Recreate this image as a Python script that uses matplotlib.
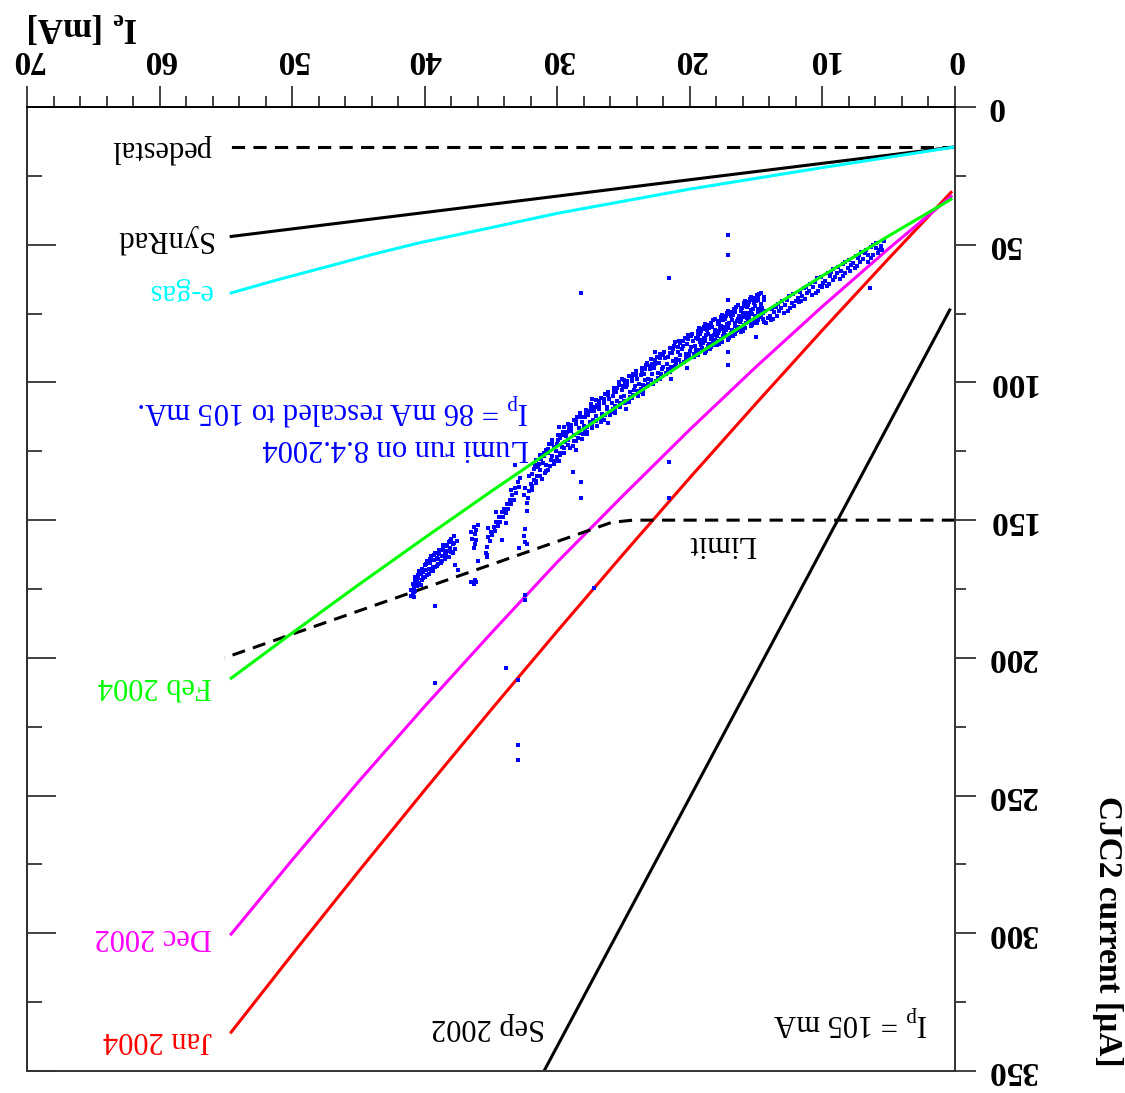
import matplotlib
matplotlib.use('Agg')
import matplotlib.pyplot as plt
from matplotlib.ticker import MultipleLocator

plt.rcParams['font.family'] = ['Liberation Serif', 'DejaVu Serif']
plt.rcParams['mathtext.fontset'] = 'custom'
plt.rcParams['mathtext.rm'] = 'Liberation Serif'
plt.rcParams['mathtext.it'] = 'Liberation Serif:italic'
plt.rcParams['mathtext.bf'] = 'Liberation Serif:bold'
plt.rcParams['lines.scale_dashes'] = False

# --- curves: electron current [mA] vs CJC2 current [uA] ---
pedestal_x = [0, 54.6]
pedestal_y = [14.5, 14.5]
synrad_x = [0, 54.6]
synrad_y = [14.5, 47.0]
egas_x = [0, 10, 20, 30, 35, 40.4, 44, 47, 51, 54.6]
egas_y = [14.5, 22.0, 29.8, 38.6, 43.8, 49.3, 53.6, 57.5, 62.6, 67.5]
curve_x = [0.3, 5, 10, 15, 20, 25, 30, 35, 40, 45, 50, 54.6]
feb04_y = [33.5, 46.8, 61.3, 76.3, 91.5, 107.2, 123.2, 139.6, 156.4, 173.5, 191.0, 207.4]
dec02_y = [32.5, 51.4, 72.4, 94.3, 117.1, 140.9, 165.2, 191.1, 217.6, 245.0, 273.4, 300.3]
jan04_y = [31.0, 55.0, 81.0, 107.6, 134.6, 162.2, 190.3, 218.9, 248.0, 277.6, 307.7, 335.9]
sep02_x = [0.4, 8.85, 31.0]
sep02_y = [73.7, 150.0, 350.0]
limit_x = [0, 24.3, 25.9, 27.6, 55.1]
limit_y = [150, 150, 150.8, 153.7, 200.0]

# --- lumi run 8.4.2004 ---
tail_x = [5.5, 5.8, 6.1, 6.4, 6.7, 7.0, 7.3, 7.6, 7.9, 8.2, 8.5, 8.8, 9.1, 9.4, 9.7,
          10.0, 10.3, 10.6, 10.9, 11.2, 11.5, 11.8, 12.1, 12.4, 12.7, 13.0, 13.3, 13.6, 13.9, 14.2]
tail_y = [[48.6, 50.3, 51.9], [49.4, 51.8, 53.0], [50.2, 51.1, 53.9], [51.0, 53.6, 54.8],
          [51.9, 53.0, 56.1], [52.6, 55.1, 56.4], [53.8, 54.9, 57.6], [54.2, 56.8, 58.3],
          [55.5, 57.4, 59.7], [56.3, 58.5, 60.1], [56.9, 59.6, 61.4], [58.2, 60.1, 62.3],
          [58.9, 61.7, 62.8], [59.8, 61.2, 64.3], [60.4, 63.1, 64.9], [61.6, 63.8, 65.2],
          [62.2, 64.9, 66.8], [63.5, 65.4, 67.7], [64.1, 66.8, 68.2], [65.3, 67.4, 69.6],
          [65.8, 68.6, 70.3], [67.2, 69.3, 70.9], [67.9, 70.4, 72.1], [68.6, 71.2, 72.9],
          [69.9, 71.8, 74.2], [70.6, 73.1, 74.8], [71.4, 74.0, 75.9], [72.5, 74.6, 76.8],
          [73.2, 75.9, 77.4], [74.1, 76.5, 78.3]]

cluster_x = [14.5, 14.75, 15.0, 15.25, 15.5, 15.75, 16.0, 16.25, 16.5, 16.75,
             17.0, 17.25, 17.5, 17.75, 18.0, 18.25, 18.5, 18.75, 19.0, 19.25]
cluster_y = [[67.5, 70.2, 72.8, 74.9, 76.1, 78.0], [67.8, 69.9, 71.6, 73.4, 75.2, 77.3],
             [68.3, 70.6, 72.1, 74.5, 76.0, 78.4], [69.1, 71.0, 73.3, 75.2, 77.4, 79.1],
             [69.8, 71.9, 73.6, 76.1, 77.8, 79.6], [70.4, 72.7, 74.8, 76.5, 78.6, 80.4],
             [71.2, 73.1, 75.5, 77.3, 79.0, 81.2], [72.0, 74.2, 75.9, 78.1, 79.9, 81.8],
             [72.6, 74.5, 76.8, 78.7, 80.6, 82.4], [73.3, 75.6, 77.2, 79.5, 81.1, 83.3],
             [74.1, 76.0, 78.3, 80.2, 82.0, 83.7], [74.8, 76.9, 78.7, 80.8, 82.6, 84.6],
             [75.5, 77.4, 79.6, 81.6, 83.3, 85.2], [76.1, 78.3, 80.1, 82.2, 84.1, 86.0],
             [76.9, 78.8, 81.0, 83.0, 84.7, 86.5], [77.5, 79.7, 81.5, 83.6, 85.5, 87.3],
             [78.3, 80.2, 82.4, 84.3, 86.1, 87.9], [78.9, 81.1, 82.8, 85.1, 86.8, 88.6],
             [79.7, 81.5, 83.7, 85.6, 87.5, 89.2], [80.3, 82.4, 84.2, 86.4, 88.1, 89.9]]
cluster_y2 = [[68.9, 73.9, 77.0], [68.8, 72.5, 76.3], [69.4, 73.3, 77.2], [70.0, 74.2, 78.3],
              [70.8, 74.8, 78.7], [71.5, 75.7, 79.5], [72.2, 76.4, 80.1], [73.1, 77.0, 80.8],
              [73.6, 77.8, 81.5], [74.4, 78.4, 82.2], [75.0, 79.2, 82.8], [75.8, 79.8, 83.6],
              [76.4, 80.6, 84.2], [77.2, 81.2, 85.1], [77.8, 82.0, 85.6], [78.6, 82.6, 86.4],
              [79.2, 83.3, 87.0], [80.0, 84.0, 87.7], [80.6, 84.6, 88.3], [81.4, 85.3, 89.0]]

band_x = [19.5, 19.8, 20.1, 20.4, 20.7, 21.0, 21.3, 21.6, 21.9, 22.2, 22.5, 22.8, 23.1, 23.4,
          23.7, 24.0, 24.3, 24.6, 24.9, 25.2, 25.5, 25.8, 26.1, 26.4, 26.7, 27.0, 27.3, 27.6,
          27.9, 28.2, 28.5, 28.8, 29.1, 29.4, 29.7, 30.0, 30.3, 30.6, 30.9, 31.2, 31.5, 31.8]
band_y = [[81.2, 84.0, 86.9, 89.8], [82.4, 85.1, 87.3, 90.6], [82.9, 86.2, 88.6, 91.1],
          [83.7, 86.6, 89.5, 92.5], [85.0, 87.7, 90.1, 93.4], [85.4, 88.8, 91.6, 94.0],
          [86.9, 89.4, 92.2, 95.6], [87.6, 90.7, 93.3, 96.2], [88.9, 91.3, 94.5, 97.1],
          [89.5, 92.8, 95.2, 98.6], [90.8, 93.4, 96.5, 99.3], [91.5, 94.7, 97.1, 100.6],
          [92.9, 95.3, 98.6, 101.2], [93.6, 96.8, 99.2, 102.7], [94.9, 97.3, 100.5, 103.4],
          [95.7, 98.8, 101.3, 104.9], [97.0, 99.6, 102.7, 105.5], [97.8, 100.9, 103.4, 107.0],
          [99.1, 101.5, 104.8, 107.6], [99.8, 102.9, 105.3, 109.1], [101.1, 103.6, 106.7, 109.8],
          [102.0, 105.1, 107.5, 111.2], [103.3, 105.9, 109.0, 112.0], [104.2, 107.4, 109.8, 113.5],
          [105.6, 108.1, 111.3, 114.2], [106.5, 109.6, 112.1, 115.8], [107.9, 110.4, 113.6, 116.5],
          [108.8, 112.0, 114.4, 118.1], [110.1, 112.7, 115.9, 118.8], [111.1, 114.3, 116.6, 120.4],
          [112.6, 115.0, 118.3, 121.2], [113.7, 116.8, 119.2, 122.9], [115.2, 117.6, 120.9, 123.8],
          [116.3, 119.4, 121.8, 125.5], [117.9, 120.3, 123.6, 126.4], [119.2, 122.3, 124.8, 128.5],
          [120.9, 123.4, 126.6, 129.6], [122.5, 125.6, 128.1, 131.8], [124.4, 126.8, 130.1, 132.9],
          [126.2, 129.3, 131.7, 135.2], [128.3, 130.7, 133.9, 136.6], [130.0, 133.2, 135.5, 138.9]]
band_y2 = [[82.6, 88.1], [83.0, 89.5], [84.4, 90.0], [85.1, 91.3], [85.8, 92.0], [87.2, 92.9],
           [87.9, 94.3], [89.3, 95.0], [89.9, 96.4], [91.3, 97.0], [91.9, 98.4], [93.2, 99.0],
           [93.9, 100.4], [95.3, 101.1], [96.0, 102.5], [97.3, 103.2], [98.1, 104.6],
           [99.5, 105.3], [100.2, 106.7], [101.4, 107.4], [102.2, 108.6], [103.5, 109.6],
           [104.5, 110.9], [105.9, 111.8], [106.8, 113.2], [108.2, 114.0], [109.0, 115.5],
           [110.5, 116.3], [111.3, 117.8], [112.7, 118.6], [113.8, 120.2], [115.3, 121.2],
           [116.4, 122.8], [117.9, 123.9], [119.1, 125.6], [120.8, 126.9], [122.2, 128.6],
           [124.1, 130.2], [125.7, 132.2], [127.8, 133.8], [129.5, 135.9], [131.6, 137.6]]

# small horizontal spread of the readings around each station
x_spread = [-0.12, 0.07, -0.03, 0.13, -0.08, 0.02, 0.10]

arcs_x = [20.2, 22.6, 23.5, 25.1, 26.2, 27.4, 28.6, 29.9, 21.4, 24.8,
          32.0, 32.1, 32.2, 32.3, 32.1, 32.4, 32.5, 32.3,
          32.8, 32.9, 33.0, 33.1, 33.2, 33.3, 33.4, 33.5, 33.6, 33.7, 33.8, 33.9, 34.0, 34.1,
          34.2, 34.3, 34.4, 34.5, 34.6, 34.7, 34.8, 34.9, 35.0, 35.1, 35.2, 35.3, 35.4, 35.3,
          35.2, 34.6, 33.9, 33.5,
          36.0, 36.1, 36.2, 36.3, 36.4, 36.2, 36.1, 36.3, 36.5, 36.0, 36.2, 36.3,
          32.4, 32.5, 32.4, 32.3]
arcs_y = [94.8, 89.1, 104.3, 98.7, 114.9, 106.0, 124.6, 116.2, 98.9, 109.5,
          136.8, 139.5, 141.8, 143.6, 133.9, 138.2, 141.0, 146.5,
          134.6, 137.9, 136.2, 140.1, 138.5, 142.7, 140.9, 144.3, 142.6, 146.0, 144.1, 147.5,
          145.8, 148.9, 147.2, 150.6, 149.0, 152.1, 150.7, 153.8, 152.4, 155.5, 154.3, 157.4,
          156.1, 159.6, 161.8, 163.5, 152.8, 146.9, 151.2, 139.0,
          151.8, 153.5, 155.0, 152.6, 156.9, 158.6, 157.2, 160.0, 154.4, 164.8, 171.9, 173.1,
          153.3, 155.6, 157.9, 158.8]

left_x = [37.6, 37.7, 37.8, 37.9, 37.9, 38.0, 38.1, 38.2, 38.2, 38.3, 38.4, 38.5, 38.5, 38.6,
          38.7, 38.8, 38.8, 38.9, 39.0, 39.1, 39.2, 39.2, 39.3, 39.4, 39.5, 39.5, 39.6, 39.7,
          39.8, 39.8, 39.9, 40.0, 40.0, 40.1, 40.2, 40.3, 40.4, 40.4, 40.5, 40.6, 40.7, 40.7,
          40.8, 40.9, 40.9, 41.0, 40.8, 37.5, 37.7,
          37.8, 38.0, 38.1, 38.3, 38.4, 38.6, 38.7, 38.9, 39.0, 39.1, 39.3, 39.4, 39.6, 39.7,
          39.9, 40.1, 40.2, 40.3, 40.5, 40.6, 40.8, 40.9, 41.0, 40.7]
left_y = [157.4, 160.3, 155.9, 158.7, 162.1, 156.8, 160.0, 163.4, 157.9, 161.2, 159.0, 164.2,
          161.8, 158.9, 163.0, 160.7, 165.5, 162.3, 166.1, 163.8, 161.9, 167.0, 164.6, 166.9,
          163.2, 168.3, 165.7, 167.8, 169.9, 164.9, 168.0, 166.4, 170.8, 168.9, 171.6, 169.7,
          172.8, 168.3, 171.1, 174.0, 172.2, 175.6, 174.4, 176.9, 173.3, 175.5, 178.0, 168.1,
          166.4,
          158.2, 161.5, 157.6, 159.4, 162.6, 160.3, 165.0, 160.9, 164.0, 166.6, 162.8, 168.6,
          164.2, 169.5, 166.1, 171.0, 167.6, 173.6, 169.8, 172.3, 176.0, 175.2, 177.4, 170.5]

outl_x = [17.1, 17.1, 21.6, 28.2, 17.1, 17.1, 17.1, 15.0, 21.6, 21.6, 28.2, 28.2, 33.2, 27.2,
          32.4, 32.4, 39.2, 36.1, 33.9, 33.0, 39.2, 33.0, 33.0, 6.4, 28.2, 28.8, 34.2, 32.9,
          35.3, 36.5]
outl_y = [46.5, 53.7, 62.0, 67.4, 70.1, 88.8, 93.7, 83.4, 129.0, 141.9, 112.4, 142.1, 130.0,
          174.8, 177.2, 179.0, 181.2, 172.4, 203.7, 208.1, 209.2, 231.7, 237.1, 65.8, 136.0,
          132.6, 157.2, 160.2, 162.7, 172.4]

x_ticks = [0, 10, 20, 30, 40, 50, 60, 70]
y_ticks = [0, 50, 100, 150, 200, 250, 300, 350]

lumi_x, lumi_y = [], []
k = 0
for xs, ys in [(tail_x, tail_y), (cluster_x, cluster_y), (cluster_x, cluster_y2),
               (band_x, band_y), (band_x, band_y2)]:
    for xv, yl in zip(xs, ys):
        for yv in yl:
            lumi_x.append(xv + x_spread[k % len(x_spread)])
            lumi_y.append(yv)
            k += 1
lumi_x += arcs_x + left_x + outl_x
lumi_y += arcs_y + left_y + outl_y

fig = plt.figure(figsize=(11.25, 10.93), dpi=100)
ax = fig.add_axes([27 / 1125, 22 / 1093, 928 / 1125, 964 / 1093])
ax.set_xlim(70, 0)
ax.set_ylim(350, 0)

lw = 2.2
ax.plot(pedestal_x, pedestal_y, color='black', lw=lw, dashes=(9.5, 6))
ax.plot(synrad_x, synrad_y, color='black', lw=lw)
ax.plot(egas_x, egas_y, color='#00ffff', lw=lw)
ax.plot(sep02_x, sep02_y, color='black', lw=lw)
ax.plot(curve_x, jan04_y, color='#ff0000', lw=lw)
ax.plot(curve_x, dec02_y, color='#ff00ff', lw=lw)
ax.plot(limit_x, limit_y, color='black', lw=lw, dashes=(9.5, 6))
ax.plot(lumi_x, lumi_y, ls='none', marker='s', ms=2.4, mew=0, color='#0000ff')
ax.plot(curve_x, feb04_y, color='#00ff00', lw=lw)

# axes: upside-down layout
ax.xaxis.tick_top()
ax.yaxis.tick_right()
ax.xaxis.set_minor_locator(MultipleLocator(2))
ax.yaxis.set_minor_locator(MultipleLocator(25))
ax.set_xticks(x_ticks)
ax.set_xticklabels([str(v) for v in x_ticks], fontweight='bold', fontsize=24, rotation=180)
ax.set_yticks(y_ticks)
ax.set_yticklabels([str(v) for v in y_ticks], fontweight='bold', fontsize=24, rotation=180,
                   va='center')
ax.tick_params(which='major', direction='out', length=15, width=1.2, pad=8, color='#222222')
ax.tick_params(which='minor', direction='out', length=8, width=1.2, color='#222222')
for s in ax.spines.values():
    s.set_linewidth(1.4)
    s.set_color('#333333')
ax.spines['top'].set_color('black')

sec = ax.secondary_yaxis('left')
sec.yaxis.set_major_locator(MultipleLocator(50))
sec.yaxis.set_minor_locator(MultipleLocator(25))
sec.tick_params(which='major', direction='in', length=21, width=1.2, labelleft=False, color='#222222')
sec.tick_params(which='minor', direction='in', length=11, width=1.2, color='#222222')
sec.spines['left'].set_linewidth(1.4)
sec.spines['left'].set_color('#333333')

fs = 22
kw = dict(rotation=180, fontsize=fs, ha='right', va='center')
ax.text(56.05, 15.0, 'pedestal', color='black', **kw)
ax.text(56.05, 47.9, 'SynRad', color='black', **kw)
ax.text(56.05, 67.0, 'e-gas', color='#00ffff', **kw)
ax.text(56.05, 210.2, 'Feb 2004', color='#00ff00', **kw)
ax.text(56.05, 301.2, 'Dec 2002', color='#ff00ff', **kw)
ax.text(56.05, 338.4, 'Jan 2004', color='#ff0000', **kw)
ax.text(30.93, 334.0, 'Sep 2002', color='black', **kw)
ax.text(2.04, 331.5, r'I$_{\rm p}$ = 105 mA', color='black', **kw)
ax.text(17.58, 158.3, 'Limit', color='black', rotation=180, fontsize=fs, ha='center', va='center')
ax.text(32.1, 116.0, 'Lumi run on 8.4.2004\n' + r'I$_{\rm p}$ = 86 mA rescaled to 105 mA.',
        color='#0000ff', rotation=180, fontsize=fs, ha='right', va='center', multialignment='left')

fig.text(138 / 1125, 1 - 26 / 1093, r'I$_{\mathbf{e}}$ [mA]', rotation=180, fontsize=25,
         fontweight='bold', ha='right', va='center')
fig.text(1108 / 1125, 1 - 931 / 1093, 'CJC2 current [µA]', rotation=270, fontsize=24,
         fontweight='bold', ha='center', va='center')

fig.savefig('out.png', dpi=100)
